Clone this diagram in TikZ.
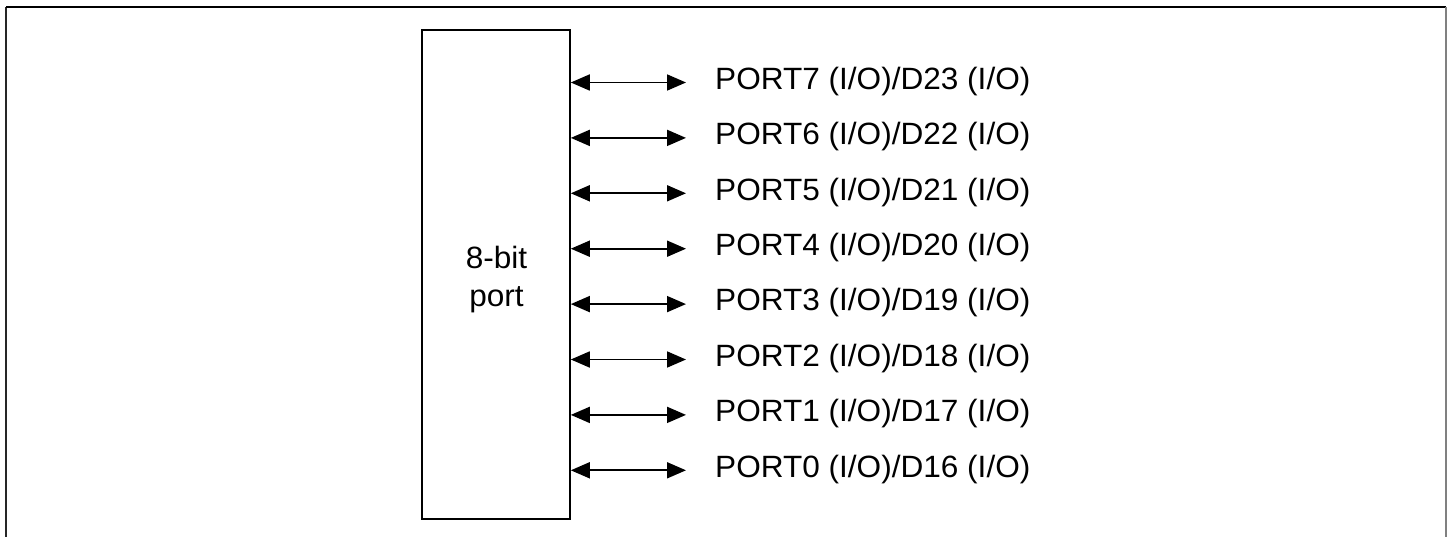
\documentclass[tikz,border=0pt]{standalone}
\usepackage{fontspec}
\setmainfont{Liberation Sans}[FakeStretch=1.025]
\usetikzlibrary{arrows.meta}
\begin{document}
\begin{tikzpicture}[x=1pt,y=-1pt,
  lbl/.style={anchor=base west,inner sep=0pt,font=\fontsize{30.8}{36}\selectfont},
  conn/.style={line width=1.8pt,{Triangle[length=19pt,width=16pt]}-{Triangle[length=19pt,width=16pt]}},
  portbox/.style={draw,line width=1.6pt,minimum width=148pt,minimum height=489pt,inner sep=0pt},
  boxtext/.style={inner sep=0pt,align=center,font=\fontsize{30.8}{38.4}\selectfont}]
\useasboundingbox (0,0) rectangle (1450,537);
\fill[white] (0,0) rectangle (1450,537);
% frame
\draw[line width=2pt,black!85] (6,537) -- (6,7);
\draw[line width=2pt,black] (6,7) -- (1446,7);
\draw[line width=2pt,black!50] (1446,7) -- (1446,537);
% box
\node[portbox] (box) at (496,274.5) {};
\node[boxtext] (boxlabel) at (496.5,279.3) {8-bit\\port};
\foreach \i/\k in {7/0,6/1,5/2,4/3,3/4,2/5,1/6,0/7}{
  \pgfmathsetmacro{\yy}{82.5+55.4*\k}
  \coordinate (a\i) at (686,\yy);
  \node[lbl] (t\i) at (715,\yy+6.8) {PORT\i{} (I/O)/D\the\numexpr16+\i\relax{} (I/O)};
  \draw[conn] (box.east |- a\i) -- (a\i);
}
\end{tikzpicture}
\end{document}
